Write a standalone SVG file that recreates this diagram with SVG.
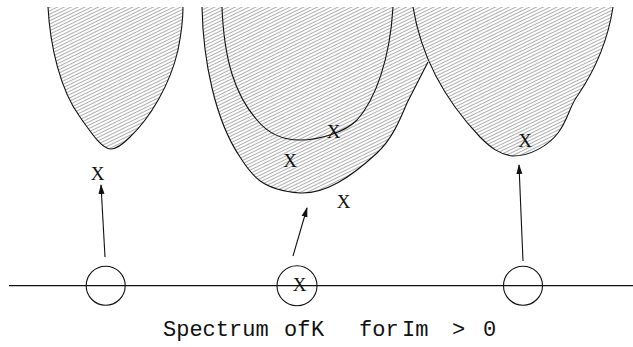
<svg xmlns="http://www.w3.org/2000/svg" width="633" height="347" viewBox="0 0 633 347">
<style>
.edge{fill:none;stroke:#111;stroke-width:1.1}
.hatch{fill:url(#hatch);stroke:none}
.mark{font-family:"Liberation Serif",serif;font-size:19px;fill:#111;text-anchor:middle}
.cap{font-family:"Liberation Mono",monospace;font-size:22px;fill:#111}
.circ{fill:none;stroke:#111;stroke-width:1.1}
.arr{fill:none;stroke:#111;stroke-width:1.1;marker-end:url(#ah)}
</style>
<defs>
<pattern id="hatch" patternUnits="userSpaceOnUse" width="6" height="3" patternTransform="rotate(-26)">
<line x1="0" y1="1.5" x2="6" y2="1.5" stroke="#6a6a6a" stroke-width="0.55"/>
</pattern>
<marker id="ah" markerWidth="10" markerHeight="8" refX="9" refY="4" orient="auto" markerUnits="userSpaceOnUse">
<path d="M0,1 L10,4 L0,7 Z" fill="#111"/>
</marker>
</defs>
<g id="lobe-left">
<path class="hatch" d="M48,7 C50,45 60,90 80,117 C92,134 102,149 111,149 C117,149 123,144 130,137 C150,118 170,85 178,50 C181,35 183,20 183,7 Z"/>
<path class="edge" d="M48,7 C50,45 60,90 80,117 C92,134 102,149 111,149 C117,149 123,144 130,137 C150,118 170,85 178,50 C181,35 183,20 183,7"/>
</g>
<g id="lobe-middle">
<path class="hatch" d="M202,7 C203,60 215,120 240,157 C252,176 262,190 300,193 C325,194 350,178 377,153 C392,139 400,120 407,103 L428,62 L420,33 L413,7 Z"/>
<path class="edge" d="M202,7 C203,60 215,120 240,157 C252,176 262,190 300,193 C325,194 350,178 377,153 C392,139 400,120 407,103 L428,62"/>
<path class="edge" d="M222,7 C224,60 235,95 257,120 C270,136 285,140 300,140 C320,140 345,132 357,120 C375,100 390,60 393,7"/>
</g>
<g id="lobe-right">
<path class="hatch" d="M413,7 C420,50 440,95 480,137 C490,147 500,155 513,156 C530,156 548,146 558,133 C568,120 570,105 578,95 C595,70 608,40 613,7 Z"/>
<path class="edge" d="M413,7 C420,50 440,95 480,137 C490,147 500,155 513,156 C530,156 548,146 558,133 C568,120 570,105 578,95 C595,70 608,40 613,7"/>
</g>
<g id="axis">
<line x1="9" y1="285.7" x2="633" y2="285.7" stroke="#111" stroke-width="1.2"/>
</g>
<g id="circle-1"><circle class="circ" cx="105.7" cy="285.7" r="19.5"/></g>
<g id="circle-2"><circle class="circ" cx="297" cy="285.7" r="20"/><text class="mark" x="299.5" y="290.5">X</text></g>
<g id="circle-3"><circle class="circ" cx="523" cy="285.7" r="19.5"/></g>
<g id="marks">
<text class="mark" x="97.5" y="180">X</text>
<text class="mark" x="333.5" y="137.5">X</text>
<text class="mark" x="290" y="167">X</text>
<text class="mark" x="343.5" y="208">X</text>
<text class="mark" x="525" y="147">X</text>
</g>
<g id="connectors">
<line class="arr" x1="105" y1="257" x2="101" y2="185"/>
<line class="arr" x1="293" y1="256" x2="307" y2="208"/>
<line class="arr" x1="523" y1="261" x2="519" y2="165"/>
</g>
<g id="caption">
<text class="cap" x="163" y="336">Spectrum</text>
<text class="cap" x="284" y="336">of</text>
<text class="cap" x="311" y="336">K</text>
<text class="cap" x="359" y="336">for</text>
<text class="cap" x="402" y="336">Im</text>
<text class="cap" x="452" y="336">&gt;</text>
<text class="cap" x="483" y="336">0</text>
</g>
</svg>
